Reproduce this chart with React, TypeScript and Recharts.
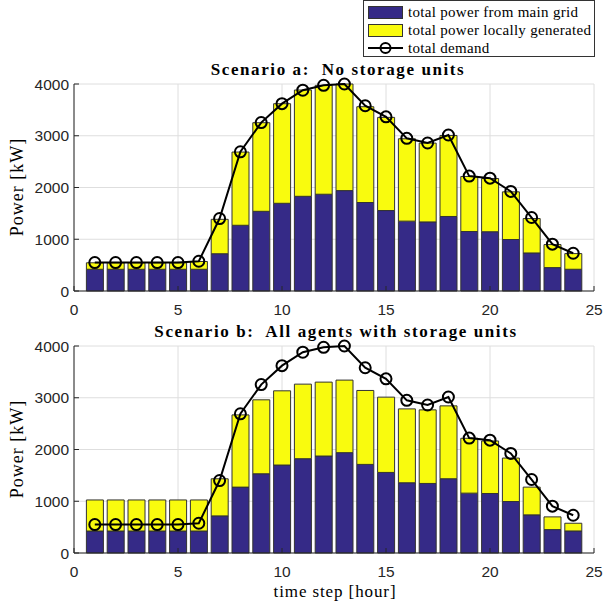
import React from 'react';
import { ComposedChart, Bar, Line, XAxis, YAxis, CartesianGrid } from 'recharts';

const hours = [1, 2, 3, 4, 5, 6, 7, 8, 9, 10, 11, 12, 13, 14, 15, 16, 17, 18, 19, 20, 21, 22, 23, 24];
const demand = [550, 550, 550, 550, 550, 575, 1400, 2690, 3255, 3620, 3880, 3975, 4000, 3580, 3365, 2950, 2860, 3015, 2220, 2180, 1925, 1420, 905, 730];
const gridA = [420, 420, 420, 420, 420, 420, 720, 1270, 1540, 1695, 1830, 1870, 1940, 1710, 1555, 1350, 1335, 1440, 1150, 1145, 995, 735, 452, 420];
const localA = [125, 125, 125, 125, 125, 150, 665, 1415, 1712, 1924, 2054, 2104, 2060, 1851, 1800, 1592, 1523, 1566, 1063, 1029, 921, 665, 445, 303];
const gridB = [425, 425, 425, 425, 425, 425, 717, 1273, 1531, 1700, 1822, 1874, 1939, 1712, 1557, 1357, 1344, 1435, 1157, 1150, 995, 737, 452, 426];
const localB = [600, 600, 600, 600, 600, 600, 717, 1396, 1429, 1434, 1441, 1428, 1402, 1429, 1455, 1428, 1422, 1408, 1060, 1015, 840, 536, 246, 149];
const xTicks = [0, 5, 10, 15, 20, 25];
const yTicks = [0, 1000, 2000, 3000, 4000];

const BLUE = '#352a87';
const YELLOW = '#f9fb0e';
const AX = '#262626';

const dataA = hours.map((h, i) => ({ hour: h, grid: gridA[i], local: localA[i], demand: demand[i] }));
const dataB = hours.map((h, i) => ({ hour: h, grid: gridB[i], local: localB[i], demand: demand[i] }));

const tickStyle = { fontFamily: '"Liberation Sans", Arial, sans-serif', fontSize: 15.5, fill: AX };
const serif = '"Liberation Serif", "Times New Roman", serif';
const noLabel = () => <g />;

function Panel({ data, top, bottom }: { data: any[]; top: number; bottom: number }) {
  return (
    <div style={{ position: 'absolute', left: 0, top: 0 }}>
      <ComposedChart width={604} height={605} data={data} margin={{ top, right: 10, bottom, left: 0 }}>
        <CartesianGrid stroke="#dedede" strokeWidth={1} />
        <XAxis dataKey="hour" type="number" domain={[0, 25]} ticks={xTicks}
          tick={tickStyle} tickSize={-5} tickMargin={18} axisLine={{ stroke: AX }} tickLine={{ stroke: AX }} height={30} />
        <XAxis xAxisId="top" orientation="top" type="number" domain={[0, 25]} ticks={xTicks}
          tick={noLabel} tickSize={-5} tickLine={{ stroke: AX }} axisLine={{ stroke: AX }} height={0} />
        <YAxis type="number" domain={[0, 4000]} ticks={yTicks} width={74}
          tick={tickStyle} tickSize={-5} tickMargin={10} axisLine={{ stroke: AX }} tickLine={{ stroke: AX }} />
        <YAxis yAxisId="right" orientation="right" type="number" domain={[0, 4000]} ticks={yTicks}
          tick={noLabel} tickSize={-5} tickLine={{ stroke: AX }} axisLine={{ stroke: AX }} width={0} />
        <Bar dataKey="grid" stackId="s" fill={BLUE} stroke="#333" strokeWidth={1} barSize={17} isAnimationActive={false} />
        <Bar dataKey="local" stackId="s" fill={YELLOW} stroke="#333" strokeWidth={1} barSize={17} isAnimationActive={false} />
        <Line dataKey="demand" type="linear" stroke="#000" strokeWidth={2}
          dot={{ r: 5.5, fill: 'none', stroke: '#000', strokeWidth: 2 }} isAnimationActive={false} />
      </ComposedChart>
    </div>
  );
}

export default function App() {
  const txt: React.CSSProperties = { position: 'absolute', fontFamily: serif, color: '#000', whiteSpace: 'nowrap' };
  const title: React.CSSProperties = { ...txt, transform: 'translate(-50%, -50%)', fontWeight: 'bold', fontSize: 17, letterSpacing: 1.6 };
  const ylab: React.CSSProperties = { ...txt, left: 16.5, transform: 'translate(-50%, -50%) rotate(-90deg)', fontSize: 18, letterSpacing: 1 };
  return (
    <div style={{ position: 'absolute', left: 0, top: 0, width: 604, height: 605, background: '#fff', overflow: 'hidden' }}>
      <Panel data={dataA} top={84} bottom={605 - 291 - 30} />
      <Panel data={dataB} top={346} bottom={605 - 553 - 30} />
      <div style={{ ...title, left: 338, top: 70 }}>Scenario a:&nbsp; No storage units</div>
      <div style={{ ...title, left: 336, top: 332 }}>Scenario b:&nbsp; All agents with storage units</div>
      <div style={{ ...ylab, top: 187 }}>Power [kW]</div>
      <div style={{ ...ylab, top: 449 }}>Power [kW]</div>
      <div style={{ ...txt, left: 335, top: 592, transform: 'translate(-50%, -50%)', fontSize: 17, letterSpacing: 0.9 }}>time step [hour]</div>
      <div style={{ position: 'absolute', left: 363, top: 0, width: 232, height: 57, border: '1px solid #333', background: '#fff', boxSizing: 'border-box' }}>
        {[
          { label: 'total power from main grid', kind: 'bar', color: BLUE },
          { label: 'total power locally generated', kind: 'bar', color: YELLOW },
          { label: 'total demand', kind: 'line', color: '#000' },
        ].map((e, i) => (
          <div key={i} style={{ position: 'absolute', left: 4, top: 3 + i * 18, height: 16, display: 'flex', alignItems: 'center' }}>
            {e.kind === 'bar' ? (
              <div style={{ width: 35, height: 13, background: e.color, border: '1px solid #333', boxSizing: 'border-box' }} />
            ) : (
              <svg width={35} height={14}>
                <line x1={0} y1={7} x2={35} y2={7} stroke="#000" strokeWidth={2} />
                <circle cx={17.5} cy={7} r={5} fill="none" stroke="#000" strokeWidth={2} />
              </svg>
            )}
            <span style={{ marginLeft: 5, fontFamily: serif, fontSize: 15, letterSpacing: 0.3, whiteSpace: 'nowrap' }}>{e.label}</span>
          </div>
        ))}
      </div>
    </div>
  );
}
